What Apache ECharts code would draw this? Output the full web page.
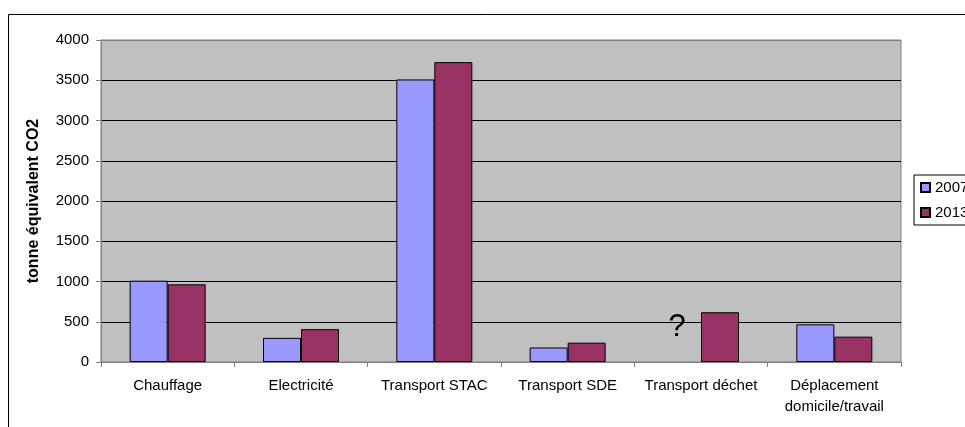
<!DOCTYPE html>
<html>
<head>
<meta charset="utf-8">
<script src="https://cdn.jsdelivr.net/npm/echarts@6/dist/echarts.min.js"></script>
<style>
html,body{margin:0;padding:0;background:#fff;}
#main{width:965px;height:427px;}
</style>
</head>
<body>
<div id="main"></div>
<script>
const categories = ['Chauffage', 'Electricité', 'Transport STAC', 'Transport SDE', 'Transport déchet', 'Déplacement\ndomicile/travail'];
const seriesNames = ['2007', '2013'];
const values2007 = [1010, 300, 3510, 180, null, 468];
const values2013 = [965, 408, 3725, 240, 618, 315];
const yTicks = { min: 0, max: 4000, interval: 500 };
const yTitle = 'tonne équivalent CO2';
const unknownNote = { category: 'Transport déchet', value: 430, text: '?' };

const FONT = "'Liberation Sans', Arial, sans-serif";
const chart = echarts.init(document.getElementById('main'), null, { renderer: 'canvas' });

const splitColors = [];
for (let v = yTicks.min; v <= yTicks.max; v += yTicks.interval) {
  splitColors.push(v === yTicks.max || v === yTicks.min ? '#808080' : '#000000');
}

chart.setOption({
  animation: false,
  backgroundColor: '#ffffff',
  textStyle: { fontFamily: FONT },
  graphic: [{
    type: 'rect',
    shape: { x: 8.5, y: 14.5, width: 1100, height: 600 },
    style: { fill: 'none', stroke: '#000', lineWidth: 1 },
    z: -10,
    silent: true
  }],
  grid: {
    left: 101, top: 40, width: 800, height: 322,
    show: true, backgroundColor: '#c0c0c0', borderColor: '#808080', borderWidth: 1
  },
  legend: {
    orient: 'vertical',
    left: 914, top: 175,
    padding: [5, 30, 5, 6],
    itemWidth: 9, itemHeight: 9, itemGap: 10,
    icon: 'rect',
    borderColor: '#000', borderWidth: 1,
    backgroundColor: '#fff',
    textStyle: { fontSize: 15, color: '#000', fontFamily: FONT, lineHeight: 15 },
    data: seriesNames
  },
  xAxis: {
    type: 'category',
    data: categories,
    axisLine: { lineStyle: { color: '#808080', width: 1 } },
    axisTick: { show: true, length: 5, inside: false, lineStyle: { color: '#808080' } },
    axisLabel: { fontSize: 15, color: '#000', fontFamily: FONT, margin: 13, lineHeight: 21, interval: 0 },
    splitLine: { show: false }
  },
  yAxis: {
    type: 'value',
    min: yTicks.min, max: yTicks.max, interval: yTicks.interval,
    name: yTitle,
    nameLocation: 'middle',
    nameGap: 59,
    nameTextStyle: { fontSize: 16, fontWeight: 'bold', color: '#000', fontFamily: FONT },
    axisLine: { show: true, lineStyle: { color: '#808080' } },
    axisTick: { show: true, length: 5, lineStyle: { color: '#808080' } },
    axisLabel: { fontSize: 15, color: '#000', fontFamily: FONT, margin: 12, formatter: v => String(v) },
    splitLine: { show: true, lineStyle: { color: splitColors, width: 1 } }
  },
  series: [
    {
      name: seriesNames[0], type: 'bar', data: values2007,
      barWidth: 38, barGap: '0%',
      itemStyle: { color: '#9999ff', borderColor: '#000', borderWidth: 1 },
      markPoint: {
        symbol: 'circle', symbolSize: 0,
        data: [{ coord: [unknownNote.category, unknownNote.value] }],
        label: {
          show: true, formatter: unknownNote.text, position: 'inside',
          offset: [-5, 0], fontSize: 31, color: '#000', fontFamily: FONT
        }
      }
    },
    {
      name: seriesNames[1], type: 'bar', data: values2013,
      barWidth: 38, barGap: '0%',
      itemStyle: { color: '#993366', borderColor: '#000', borderWidth: 1 }
    }
  ]
});
</script>
</body>
</html>
